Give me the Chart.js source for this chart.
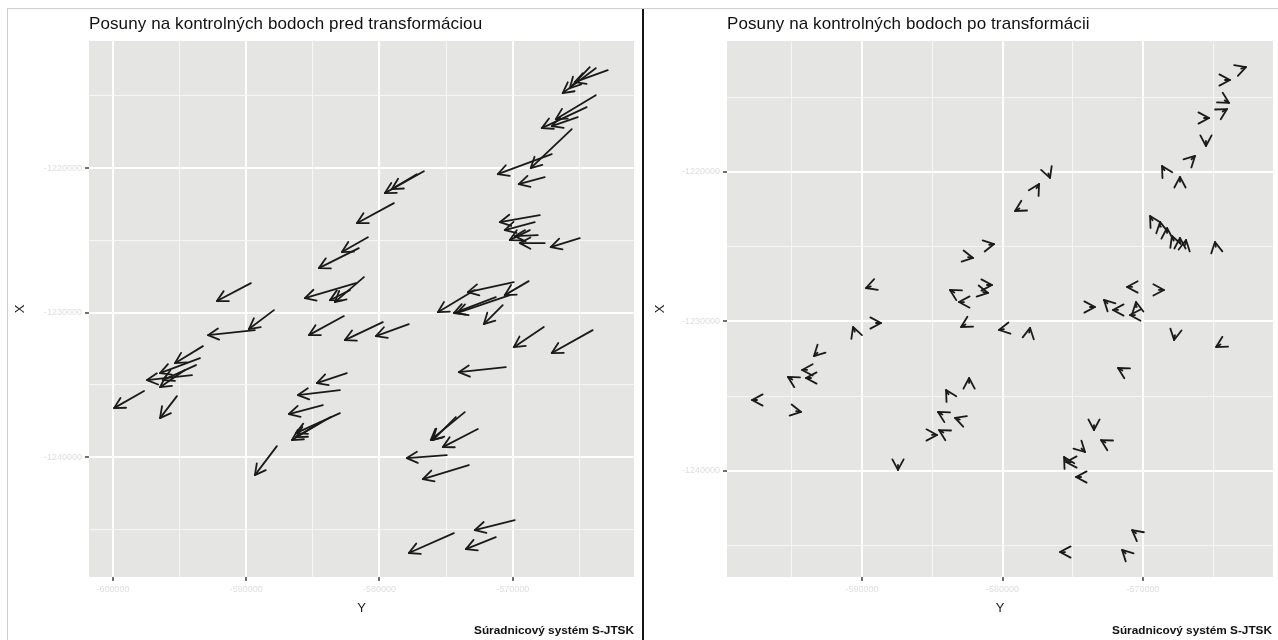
<!DOCTYPE html>
<html lang="sk">
<head>
<meta charset="utf-8">
<title>Posuny na kontrolných bodoch</title>
<script src="https://cdn.jsdelivr.net/npm/chart.js@4.4.1/dist/chart.umd.min.js"></script>
<style>
    body { margin: 0; background: #fff; font-family: 'Liberation Sans', Arial, sans-serif; }
    #page { position: relative; width: 1278px; height: 640px; overflow: hidden; }
    .frame-top { position: absolute; left: 7px; top: 8px; width: 1271px; height: 1px; background: #cfcfcf; }
    .frame-left { position: absolute; left: 7px; top: 8px; width: 1px; height: 632px; background: #cfcfcf; }
    .divider { position: absolute; left: 642px; top: 9px; width: 2px; height: 631px; background: #151515; }
    .panel { position: absolute; top: 9px; height: 631px; }
    .panel canvas { position: absolute; left: 0; top: 0; }
    .panel-title { position: absolute; top: 6px; font-size: 17px; line-height: 17px; color: #111; white-space: nowrap; z-index: 2; letter-spacing: 0.1px; }
    .caption { position: absolute; top: 615px; font-size: 11.8px; line-height: 12px; font-weight: bold; color: #111; white-space: nowrap; z-index: 2; }
</style>
</head>
<body>
<div id="page">
    <div class="frame-top"></div>
    <div class="frame-left"></div>
    <div class="divider"></div>

    <div class="panel" id="panel-before" style="left: 8px; width: 634px;">
        <canvas id="chart-before"></canvas>
        <div class="panel-title" style="left: 81px;">Posuny na kontrolných bodoch pred transformáciou</div>
        <div class="caption" style="right: 8px;">Súradnicový systém S-JTSK</div>
    </div>

    <div class="panel" id="panel-after" style="left: 645px; width: 633px;">
        <canvas id="chart-after"></canvas>
        <div class="panel-title" style="left: 82px;">Posuny na kontrolných bodoch po transformácii</div>
        <div class="caption" style="right: 6px;">Súradnicový systém S-JTSK</div>
    </div>
</div>

<script>
// grid units: 10 units between labelled grid lines

// tick labels (washed out in the original)
const yTickValues = [0, 10, 20, 30];
const yTickLabels = ['-600000', '-590000', '-580000', '-570000'];
const xTickValues = [0, 10, 20];
const xTickLabels = ['-1240000', '-1230000', '-1220000'];

// before transformation: arrow tail (from) and head (to)
const beforeFromY = [37.13, 36.23, 35.78, 36.23, 35.55, 34.88, 34.43, 32.93, 32.40, 23.33,
    22.80, 21.08, 19.13, 18.45, 32.03, 31.65, 31.28, 32.40, 31.88, 35.03,
    10.35, 18.83, 18.23, 17.78, 12.08, 10.65, 17.33, 20.25, 22.20, 6.75,
    6.53, 6.23, 5.93, 5.40, 2.33, 4.80, 31.20, 30.08, 29.78, 27.15,
    29.25, 28.73, 32.33, 36.00, 29.48, 17.55, 17.03, 15.75, 17.03, 15.60,
    16.35, 12.30, 26.40, 25.73, 27.38, 25.05, 26.70, 30.15, 28.73, 25.58];
const beforeFromX = [26.78, 26.92, 26.99, 25.05, 24.22, 23.53, 22.70, 20.97, 19.38, 19.79,
    19.58, 17.58, 15.22, 14.46, 16.75, 16.26, 15.71, 14.81, 15.36, 15.15,
    12.04, 12.46, 12.04, 11.56, 10.17, 8.79, 9.76, 9.34, 9.20, 7.68,
    6.85, 6.37, 5.67, 6.02, 4.57, 4.22, 12.18, 12.11, 11.21, 11.56,
    10.52, 11.07, 9.00, 8.79, 6.23, 5.81, 4.64, 3.60, 3.04, 2.42,
    2.77, 0.76, 3.11, 2.77, 1.94, 0.14, -0.55, -4.36, -5.54, -5.26];
const beforeToY = [34.65, 33.75, 34.28, 33.23, 32.18, 32.93, 31.35, 28.88, 30.45, 20.40,
    20.93, 18.30, 17.18, 15.45, 29.03, 29.40, 29.78, 30.53, 30.15, 32.85,
    7.80, 16.65, 14.40, 16.28, 10.20, 7.13, 14.70, 17.40, 19.73, 4.65,
    3.53, 3.75, 2.55, 3.53, 0.08, 3.53, 29.40, 26.63, 25.80, 24.38,
    27.83, 25.58, 30.08, 32.93, 25.95, 15.30, 13.88, 13.20, 13.73, 13.43,
    13.73, 10.65, 23.85, 24.00, 24.75, 22.05, 23.25, 27.15, 26.48, 22.20];
const beforeToX = [25.95, 25.19, 25.53, 23.39, 22.77, 22.91, 20.00, 19.58, 18.89, 18.27,
    18.55, 16.19, 14.19, 13.08, 16.26, 15.71, 15.02, 14.81, 15.29, 14.53,
    10.80, 10.73, 11.00, 10.86, 8.86, 8.44, 8.44, 8.10, 8.37, 6.50,
    5.81, 5.33, 5.33, 4.84, 3.39, 2.70, 11.21, 11.42, 9.96, 10.03,
    9.20, 9.96, 7.61, 7.20, 5.88, 5.12, 4.29, 2.98, 1.66, 1.18,
    1.38, -1.25, 1.18, 1.18, 0.69, -0.07, -1.52, -5.05, -6.37, -6.64];

// after transformation: arrow head and its (short) shift
const afterToY = [37.33, 36.19, 36.12, 35.98, 34.70, 34.48, 33.70, 31.35, 32.63, 23.38,
    22.60, 20.89, 30.50, 31.21, 31.71, 32.06, 32.63, 33.06, 35.12, 19.40,
    17.90, 10.28, 19.25, 18.97, 16.26, 16.90, 17.05, 19.75, 21.96, 26.58,
    27.22, 27.86, 28.86, 31.49, 29.50, 29.07, 32.21, 35.20, 28.22, 6.58,
    4.73, 5.73, 6.01, 2.17, 5.66, 9.36, 11.35, 17.62, 15.98, 15.41,
    16.62, 15.34, 15.48, 12.56, 26.51, 27.01, 25.87, 24.38, 24.52, 25.23,
    29.22, 28.51, 24.09];
const afterToX = [27.02, 26.15, 24.62, 24.21, 23.61, 21.74, 21.07, 20.40, 19.67, 19.60,
    19.20, 17.39, 17.06, 16.66, 16.25, 15.72, 15.59, 15.45, 15.32, 15.18,
    14.25, 12.24, 12.44, 11.91, 12.11, 11.30, 9.63, 9.43, 9.57, 10.97,
    11.44, 10.77, 12.31, 12.11, 11.30, 10.43, 8.76, 8.29, 6.89, 7.69,
    6.29, 6.76, 6.22, 4.75, 3.95, 9.63, 9.90, 6.22, 5.42, 3.95,
    3.55, 2.41, 2.74, 0.07, 2.74, 2.07, 1.27, 0.94, 0.60, -0.40,
    -3.95, -5.28, -5.42];
const afterDY = [0.34, 0.36, 0.31, 0.31, 0.36, 0, 0.25, -0.18, 0, 0.12,
    0.18, -0.31, -0.18, -0.06, 0, -0.12, 0, 0.06, -0.06, 0.35,
    0.35, -0.34, 0.36, 0.35, -0.31, -0.36, -0.31, -0.35, 0.06, 0.36,
    -0.25, -0.36, -0.36, 0.36, -0.06, -0.36, -0.06, -0.31, -0.31, -0.25,
    -0.31, -0.36, -0.36, -0.36, 0.35, -0.12, 0.36, 0, -0.18, -0.31,
    -0.34, 0.36, -0.31, 0, 0, -0.31, 0.25, -0.18, -0.36, -0.36,
    -0.28, -0.25, -0.36];
const afterDX = [0.11, 0, -0.17, 0.17, 0, -0.33, 0.23, 0.29, 0.33, -0.31,
    0.29, -0.17, 0.29, 0.32, 0.33, 0.31, 0.33, 0.32, 0.32, 0.06,
    -0.06, -0.11, 0, -0.06, 0.17, 0, -0.17, -0.06, 0.32, 0,
    0.23, 0, 0, 0, 0.32, 0, -0.32, -0.17, 0.17, -0.23,
    0.17, 0, 0, 0, -0.06, 0.31, 0, 0.33, 0.29, 0.17,
    0.11, 0, 0.17, -0.33, -0.33, 0.17, -0.23, 0.29, 0, 0,
    0.21, 0.23, 0];

const isMajor = v => Math.abs(v % 10) < 1e-6;

// grey ggplot-like panel behind the grid
const panelBackground = {
    id: 'panelBackground',
    beforeDraw(chart) {
        const { ctx, chartArea: a } = chart;
        ctx.save();
        ctx.fillStyle = '#e5e5e4';
        ctx.fillRect(a.left, a.top, a.right - a.left, a.bottom - a.top);
        ctx.restore();
    }
};

// open arrow heads at the end of every segment
const arrowHeads = {
    id: 'arrowHeads',
    afterDatasetsDraw(chart, args, opts) {
        const ctx = chart.ctx;
        const len = opts.length || 9;
        const spread = Math.PI / 180 * 28;
        ctx.save();
        ctx.strokeStyle = '#1a1a1a';
        ctx.lineWidth = 1.8;
        ctx.lineCap = 'round';
        ctx.lineJoin = 'round';
        chart.data.datasets.forEach((ds, i) => {
            const pts = chart.getDatasetMeta(i).data;
            const a = pts[0], b = pts[1];
            const ang = Math.atan2(b.y - a.y, b.x - a.x);
            ctx.beginPath();
            ctx.moveTo(b.x - len * Math.cos(ang - spread), b.y - len * Math.sin(ang - spread));
            ctx.lineTo(b.x, b.y);
            ctx.lineTo(b.x - len * Math.cos(ang + spread), b.y - len * Math.sin(ang + spread));
            ctx.stroke();
        });
        ctx.restore();
    }
};

const makeArrows = (fromY, fromX, toY, toX) => fromY.map((y, i) => ({
    data: [{ x: y, y: fromX[i] }, { x: toY[i], y: toX[i] }],
    showLine: true,
    borderColor: '#1a1a1a',
    borderWidth: 1.8,
    borderCapStyle: 'round',
    pointRadius: 0,
    fill: false
}));

const axisOptions = (range, ticksAt, labels, isX, fitSize, titlePad) => ({
    type: 'linear',
    min: range[0],
    max: range[1],
    afterFit: scale => {
        if (isX) scale.height = fitSize; else scale.width = fitSize;
    },
    border: { display: false },
    grid: {
        color: ctx => isMajor(ctx.tick.value) ? '#ffffff' : '#f6f6f6',
        lineWidth: ctx => isMajor(ctx.tick.value) ? 2 : 1.1,
        tickColor: ctx => isMajor(ctx.tick.value) ? '#333333' : 'rgba(0,0,0,0)',
        tickLength: 4,
        tickWidth: 1.4
    },
    ticks: {
        stepSize: 5,
        includeBounds: false,
        autoSkip: false,
        maxRotation: 0,
        padding: 3,
        color: '#dddddd',
        font: { family: "'Liberation Sans', Arial, sans-serif", size: 9 },
        callback: value => {
            const k = ticksAt.indexOf(Math.round(value));
            return isMajor(value) && k >= 0 ? labels[k] : '';
        }
    },
    title: {
        display: true,
        text: isX ? 'Y' : 'X',
        color: '#1a1a1a',
        font: { family: "'Liberation Sans', Arial, sans-serif", size: 13 },
        padding: isX ? { top: 0, bottom: titlePad } : { top: titlePad, bottom: 0 }
    }
});

const buildChart = (canvasId, datasets, xRange, yRange, yAxisWidth, rightPad, titleLeftPad, headLength) => {
    const ctx = document.getElementById(canvasId).getContext('2d');
    return new Chart(ctx, {
        type: 'scatter',
        data: { datasets },
        options: {
            responsive: true,
            maintainAspectRatio: false,
            animation: false,
            events: [],
            layout: { padding: { top: 32, right: rightPad, bottom: 0, left: 0 } },
            plugins: {
                legend: { display: false },
                tooltip: { enabled: false },
                arrowHeads: { length: headLength }
            },
            scales: {
                x: axisOptions(xRange, yTickValues, yTickLabels, true, 63, 24),
                y: axisOptions(yRange, xTickValues, xTickLabels, false, yAxisWidth, titleLeftPad)
            }
        },
        plugins: [panelBackground, arrowHeads]
    });
};

window.onload = () => {
    const afterFromY = afterToY.map((y, i) => y - afterDY[i]);
    const afterFromX = afterToX.map((x, i) => x - afterDX[i]);

    buildChart('chart-before', makeArrows(beforeFromY, beforeFromX, beforeToY, beforeToX),
        [-1.8, 39.1], [-8.3, 28.8], 81, 8, 5, 12);
    buildChart('chart-after', makeArrows(afterFromY, afterFromX, afterToY, afterToX),
        [0.39, 39.25], [-7.09, 28.76], 82, 5, 8, 12);
};
</script>
</body>
</html>
